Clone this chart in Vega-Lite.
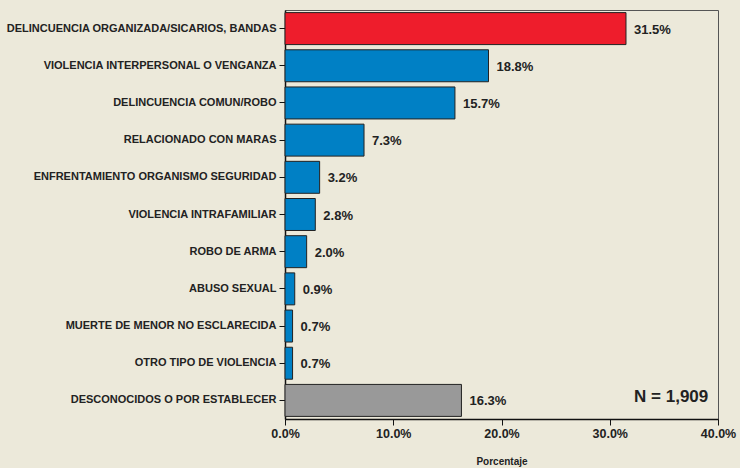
{
  "$schema": "https://vega.github.io/schema/vega-lite/v6.json",
  "autosize": {"type": "none"},
  "width": 433,
  "height": 409,
  "padding": {"left": 285, "top": 10, "right": 22, "bottom": 49},
  "background": "#ECE9DA",
  "config": {
    "font": "Liberation Sans",
    "view": {"stroke": "#555555", "strokeWidth": 1, "fill": null},
    "axis": {"grid": false, "domainColor": "#111111", "tickColor": "#111111", "labelColor": "#222222", "titleColor": "#222222", "labelFontWeight": "bold", "titleFontWeight": "bold"}
  },
  "data": {
    "values": [
      {"causa": "DELINCUENCIA ORGANIZADA/SICARIOS, BANDAS", "valor": 31.5, "grupo": "rojo"},
      {"causa": "VIOLENCIA INTERPERSONAL O VENGANZA", "valor": 18.8, "grupo": "azul"},
      {"causa": "DELINCUENCIA COMUN/ROBO", "valor": 15.7, "grupo": "azul"},
      {"causa": "RELACIONADO CON MARAS", "valor": 7.3, "grupo": "azul"},
      {"causa": "ENFRENTAMIENTO ORGANISMO SEGURIDAD", "valor": 3.2, "grupo": "azul"},
      {"causa": "VIOLENCIA INTRAFAMILIAR", "valor": 2.8, "grupo": "azul"},
      {"causa": "ROBO DE ARMA", "valor": 2.0, "grupo": "azul"},
      {"causa": "ABUSO SEXUAL", "valor": 0.9, "grupo": "azul"},
      {"causa": "MUERTE DE MENOR NO ESCLARECIDA", "valor": 0.7, "grupo": "azul"},
      {"causa": "OTRO TIPO DE VIOLENCIA", "valor": 0.7, "grupo": "azul"},
      {"causa": "DESCONOCIDOS O POR ESTABLECER", "valor": 16.3, "grupo": "gris"}
    ]
  },
  "transform": [{"calculate": "format(datum.valor, '.1f') + '%'", "as": "etiqueta"}],
  "encoding": {
    "y": {
      "field": "causa", "type": "nominal", "sort": null, "title": null,
      "scale": {"paddingInner": 0.14, "paddingOuter": 0.07},
      "axis": {"labelFontSize": 11, "tickSize": 6, "labelPadding": 3, "domainWidth": 1.5, "labelLimit": 300}
    },
    "x": {
      "field": "valor", "type": "quantitative",
      "scale": {"domain": [0, 40], "nice": false},
      "title": "Porcentaje",
      "axis": {"values": [0, 10, 20, 30, 40], "labelExpr": "format(datum.value, '.1f') + '%'", "labelFontSize": 12.5, "tickSize": 6, "labelPadding": 2, "titleFontSize": 10, "titlePadding": 17, "domainWidth": 1.5, "labelFlush": false}
    }
  },
  "layer": [
    {
      "mark": {"type": "bar", "stroke": "#222222", "strokeWidth": 1},
      "encoding": {
        "color": {"field": "grupo", "type": "nominal", "legend": null,
          "scale": {"domain": ["rojo", "azul", "gris"], "range": ["#EE1D2C", "#0080C5", "#999999"]}}
      }
    },
    {
      "mark": {"type": "text", "align": "left", "baseline": "middle", "dx": 8, "dy": 1, "fontSize": 13, "fontWeight": "bold", "color": "#222222"},
      "encoding": {"text": {"field": "etiqueta"}}
    },
    {
      "data": {"values": [{"nota": "N = 1,909", "causa": "DESCONOCIDOS O POR ESTABLECER", "pos": 39.1}]},
      "mark": {"type": "text", "align": "right", "baseline": "middle", "dy": -3, "fontSize": 17, "fontWeight": "bold", "color": "#222222"},
      "encoding": {
        "x": {"field": "pos", "type": "quantitative"},
        "y": {"field": "causa", "type": "nominal"},
        "text": {"field": "nota"}
      }
    }
  ]
}
